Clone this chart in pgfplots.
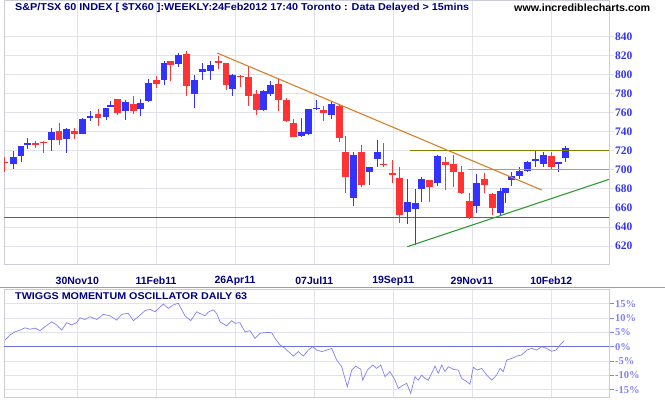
\documentclass[border=0pt]{standalone}
\usepackage{pgfplots}
\usepackage{pgfplotstable}
\pgfplotsset{compat=1.18}
\usepackage{graphicx}
\usepackage{fontspec}
\setmainfont{Liberation Sans}
\newfontfamily\serifb{Liberation Serif}

\definecolor{cblue}{RGB}{51,51,255}
\definecolor{cred}{RGB}{255,51,51}
\definecolor{gridc}{RGB}{226,226,234}
\definecolor{framec}{RGB}{205,205,215}
\definecolor{navyc}{RGB}{0,0,128}
\definecolor{lblue}{RGB}{128,128,255}
\definecolor{zeroc}{RGB}{110,110,215}
\definecolor{trendor}{RGB}{214,128,40}
\definecolor{olivec}{RGB}{128,128,0}
\definecolor{hzorange}{RGB}{255,136,20}
\definecolor{greenc}{RGB}{51,153,51}
\definecolor{supred}{RGB}{250,30,30}

% x = pixel position, o h l c
\pgfplotstableread{
x o h l c
13.3 706 720 701 714
21 715 725.5 708 725
27.3 726 734 722 728.5
51.7 731 743.8 720 739.6
66.7 732 744 718 743
82.3 738 755 738 753
90 754 762 751 757
106 756 765 752 765
110.7 766 772 766 768.4
125.7 761.4 773 752 771.6
140.7 764.5 774.7 757 770.5
148.7 772 795.8 771 791.6
164 794.7 814.7 789.5 812.3
178.3 811 822.5 808.4 820.3
194.3 780 800 764.6 794.7
202.3 802.4 812.3 794.7 806
210.3 804.2 814.7 794.7 810.5
232.3 785.2 800.7 777.2 799.3
263.3 763.2 783.5 761.4 782.5
270.7 780 793.7 777.2 789.5
301.7 735.8 754.4 735 739.6
308.3 738 764 736.8 764
316.7 764.5 773.7 763 765
331.3 757.9 770.9 753.3 769.5
353.3 670 719.3 662.4 716
369.3 698 703.5 684.2 703.5
377.3 711.2 730.9 703.5 718.9
407.3 656 690 643.1 665.8
415.3 659.2 679.5 621 664.8
421.7 679.5 692.8 666.5 690.4
437.3 686.5 715.6 683 714.5
476.7 662 695.6 654.3 685.8
500.7 655 680.6 651.5 678
505.3 676 680.6 664.8 680.6
511.3 689.3 698.1 683 693.5
519.3 693.5 703.3 690 699.1
527.3 699.1 709.6 698.1 708.2
535.3 709.3 719.8 703.3 711.4
543.3 705.8 719.1 703.3 715.6
558.7 705.8 708.6 698.1 708.6
565.3 712.8 725.1 708.6 722.6
}\upcandles

\pgfplotstableread{
x o h l c
5 708.5 714 698 707.5
35.3 727.5 730 723.5 727
43.3 729.3 730 718 729
59 741 749 726 731.5
74.3 741 744 732 738
98 759 763.5 746 755
117.7 775 775 758 760
133.3 769.5 778 759 761.4
156.3 794.4 798.2 786 789.8
170.7 814 814 793.7 810.2
186.3 822 824.6 777.2 788
218.3 814.7 819.3 806.3 813
226 811.9 811.9 784.2 788.8
240.7 798.5 800 786.7 798
248.3 797.9 809.5 767.4 777.2
256.3 780 783.5 757.9 763.2
278.3 790.5 796.5 761.4 773.7
286.7 773.7 775.4 750 750.9
293.3 749 753.7 735 735
323.3 763.2 767.4 751.6 760.3
339.3 766.7 769.5 729.8 734
345.3 719 735.8 676.1 692
361.7 719.3 726.3 682.4 684.2
383.3 706.2 728 703.5 705.8
392.3 696 710.3 685.8 695.3
399.3 691 702.6 644.5 652.5
429.3 689.3 689.5 666.5 682.3
445.3 708.2 713.8 678.8 705.4
453.3 706 715.6 682.3 698
461 698 704 674.6 676
469.3 667 676 648 650.8
484.3 690.4 697 676 684
492.7 674.6 675.3 652.5 660.2
551.3 714.5 719.1 699.8 703.3
}\downcandles

\pgfplotstableread{
x v
5 2.3
10 4.1
15 5.2
20 5.8
25 6.6
30 6.1
35 6.5
40 5.6
45 7.0
51.7 8.7
56.7 7.6
61.7 5.8
66.7 8.4
71.7 7.6
76.7 8.4
80 10.1
85 9.5
90 10.5
96.7 9.5
103.3 11.3
110 10.8
116.7 9.3
121.7 11.3
128.3 11.7
133.3 9.1
138.3 10.5
145 12.6
150 13.1
155 12.2
163.3 14.9
168.3 13.4
173.3 14.6
178.3 15.2
185 10.8
190.7 9.1
196.7 12.2
200 11.6
205 10.8
208.3 12.1
213.3 12.9
216.7 11.6
220 8.7
226.7 7.3
231.7 9.1
235 8.2
240 8.4
245 5.2
250 5.6
255 2.9
260 4.7
266.7 5.0
271.7 4.9
275 2.9
280 0.6
285 -0.6
288.3 -1.7
293.3 -3.3
298.3 -1.7
303.3 -3.3
308.3 -1.2
312.7 0
316.7 -1.2
321.7 -1.7
326.7 -1.2
331.7 -0.6
336.7 -4.7
341.7 -7.0
344 -9.9
347.3 -14.0
351.7 -8.2
355.7 -6.8
360.7 -7.9
362.7 -11.7
367.3 -8.2
372.7 -6.4
376.7 -7.6
380.7 -6.4
385 -10.5
390 -8.7
395 -11.7
398.3 -14.6
403.3 -13.4
406.7 -12.8
410.7 -16.3
415 -10.5
418.3 -11.7
421.7 -9.9
425 -11.1
428.3 -11.7
431.7 -9.3
435 -6.8
438.3 -9.3
441.7 -6.4
445 -8.7
448.3 -7.0
453.3 -7.9
458.3 -8.2
461.7 -11.1
466.7 -12.2
470 -13.1
473.3 -7.2
477.3 -8.2
481.7 -7.6
486.7 -9.9
491.7 -11.7
496.7 -9.9
500 -7.6
503.3 -8.7
506.7 -4.7
511.7 -4.1
516.7 -3.3
521.7 -2.9
526.7 -1.2
531.7 -0.6
536.7 -1.2
541.7 0
546.7 -0.6
551.7 -1.6
556 -1.2
560 0.6
564 2.0
}\osc

\pgfplotsset{
  panel/.style={
    scale only axis, width=605pt,
    xmin=4, xmax=609,
    axis line style={draw=framec, line width=0.8pt},
    grid=major, major grid style={draw=gridc, line width=0.8pt},
    xtick={77.3,156,235,314.3,393.3,472,551.3},
    xtick style={draw=none},
    ytick pos=right, yticklabel pos=right,
    tick align=outside, major tick length=4.5pt,
    yticklabel style={anchor=west, inner sep=0pt, xshift=1.5pt},
    clip=true,
  },
  hline/.style={draw=none, mark=none, error bars/.cd, x dir=both, x explicit, error mark=none,
    error bar style={line width=1.2pt, color=#1}},
}

\begin{document}
\begin{tikzpicture}[x=1pt,y=1pt]
\path[use as bounding box] (0,0) rectangle (665,405);

% ---------- price panel ----------
\begin{axis}[panel,
  at={(4pt,141pt)}, anchor=south west, height=264pt,
  ymin=601.0, ymax=878.6,
  ytick={620,640,660,680,700,720,740,760,780,800,820,840},
  yticklabels={620,640,660,680,700,720,740,760,780,800,820,840},
  ytick style={draw=gridc, line width=0.8pt},
  yticklabel style={font=\serifb\bfseries\fontsize{11.5}{12}\selectfont, text=cblue},
  xticklabels={30Nov10,11Feb11,26Apr11,07Jul11,19Sep11,29Nov11,10Feb12},
  xticklabel style={font=\bfseries\fontsize{10.5}{12}\selectfont, text=navyc, anchor=center, yshift=-12pt},
]
% horizontal support line at 650, as a thin filled band
\addplot[fill=supred, draw=none, mark=none] coordinates {(4,649.3) (609,649.3) (609,650.7) (4,650.7)} -- cycle;
% wicks
\addplot[draw=none, mark=none, error bars/.cd, y dir=both, y explicit, error mark=none,
  error bar style={line width=1pt, color=cblue}]
  table[x=x, y expr={(\thisrow{h}+\thisrow{l})/2}, y error expr={(\thisrow{h}-\thisrow{l})/2}] {\upcandles};
\addplot[draw=none, mark=none, error bars/.cd, y dir=both, y explicit, error mark=none,
  error bar style={line width=1pt, color=cred}]
  table[x=x, y expr={(\thisrow{h}+\thisrow{l})/2}, y error expr={(\thisrow{h}-\thisrow{l})/2}] {\downcandles};
% bodies
\addplot[draw=none, mark=none, error bars/.cd, y dir=both, y explicit, error mark=none,
  error bar style={line width=6.5pt, color=cblue}]
  table[x=x, y expr={(\thisrow{o}+\thisrow{c})/2}, y error expr={max(abs(\thisrow{o}-\thisrow{c})/2,0.6)}] {\upcandles};
\addplot[draw=none, mark=none, error bars/.cd, y dir=both, y explicit, error mark=none,
  error bar style={line width=6.5pt, color=cred}]
  table[x=x, y expr={(\thisrow{o}+\thisrow{c})/2}, y error expr={max(abs(\thisrow{o}-\thisrow{c})/2,0.6)}] {\downcandles};
% resistance lines
\addplot[hline=olivec] coordinates {(509.5,720) +- (99.5,0)};
\addplot[fill=hzorange, draw=none, mark=none] coordinates {(468.3,699.4) (609,699.4) (609,700.6) (468.3,700.6)} -- cycle;
% trend lines
\addplot[color=trendor, line width=1.1pt, mark=none] coordinates {(217.3,822.8) (541.7,678.8)};
\addplot[color=greenc, line width=1.1pt, mark=none] coordinates {(407.3,619.2) (609,690)};
\end{axis}

% ---------- oscillator panel ----------
\begin{axis}[panel,
  at={(4pt,7.7pt)}, anchor=south west, height=107.8pt,
  ymin=-17.7, ymax=20.0,
  ytick={-15,-10,-5,0,5,10,15},
  yticklabels={-15\%,-10\%,-5\%,0\%,5\%,10\%,15\%},
  ytick style={draw=lblue, line width=0.8pt},
  yticklabel style={font=\serifb\bfseries\fontsize{10.5}{12}\selectfont, text=lblue},
  xticklabels={},
]
\addplot[color=zeroc, line width=1pt, mark=none] coordinates {(4,0) (609,0)};
\addplot[color=lblue, line width=0.7pt, mark=none] table[x=x, y=v] {\osc};
\end{axis}

% separator
\draw[gray!75, line width=1pt] (0,405-288) -- (665,405-288);

% titles
\node[anchor=west, inner sep=0pt, text=navyc, font=\bfseries\fontsize{10}{12}\selectfont]
  at (15,405-7.8) {\resizebox{454pt}{\height}{S\&P/TSX 60 INDEX [ \$TX60 ]:WEEKLY:24Feb2012 17:40 Toronto : Data Delayed > 15mins}};
\node[anchor=west, inner sep=0pt, text=black, font=\bfseries\fontsize{10.5}{12}\selectfont]
  at (514,405-7.5) {\resizebox{136pt}{\height}{www.incrediblecharts.com}};
\node[anchor=west, inner sep=0pt, text=navyc, font=\bfseries\fontsize{9.8}{12}\selectfont]
  at (15,405-296) {\resizebox{232pt}{\height}{TWIGGS MOMENTUM OSCILLATOR DAILY 63}};
\end{tikzpicture}
\end{document}
